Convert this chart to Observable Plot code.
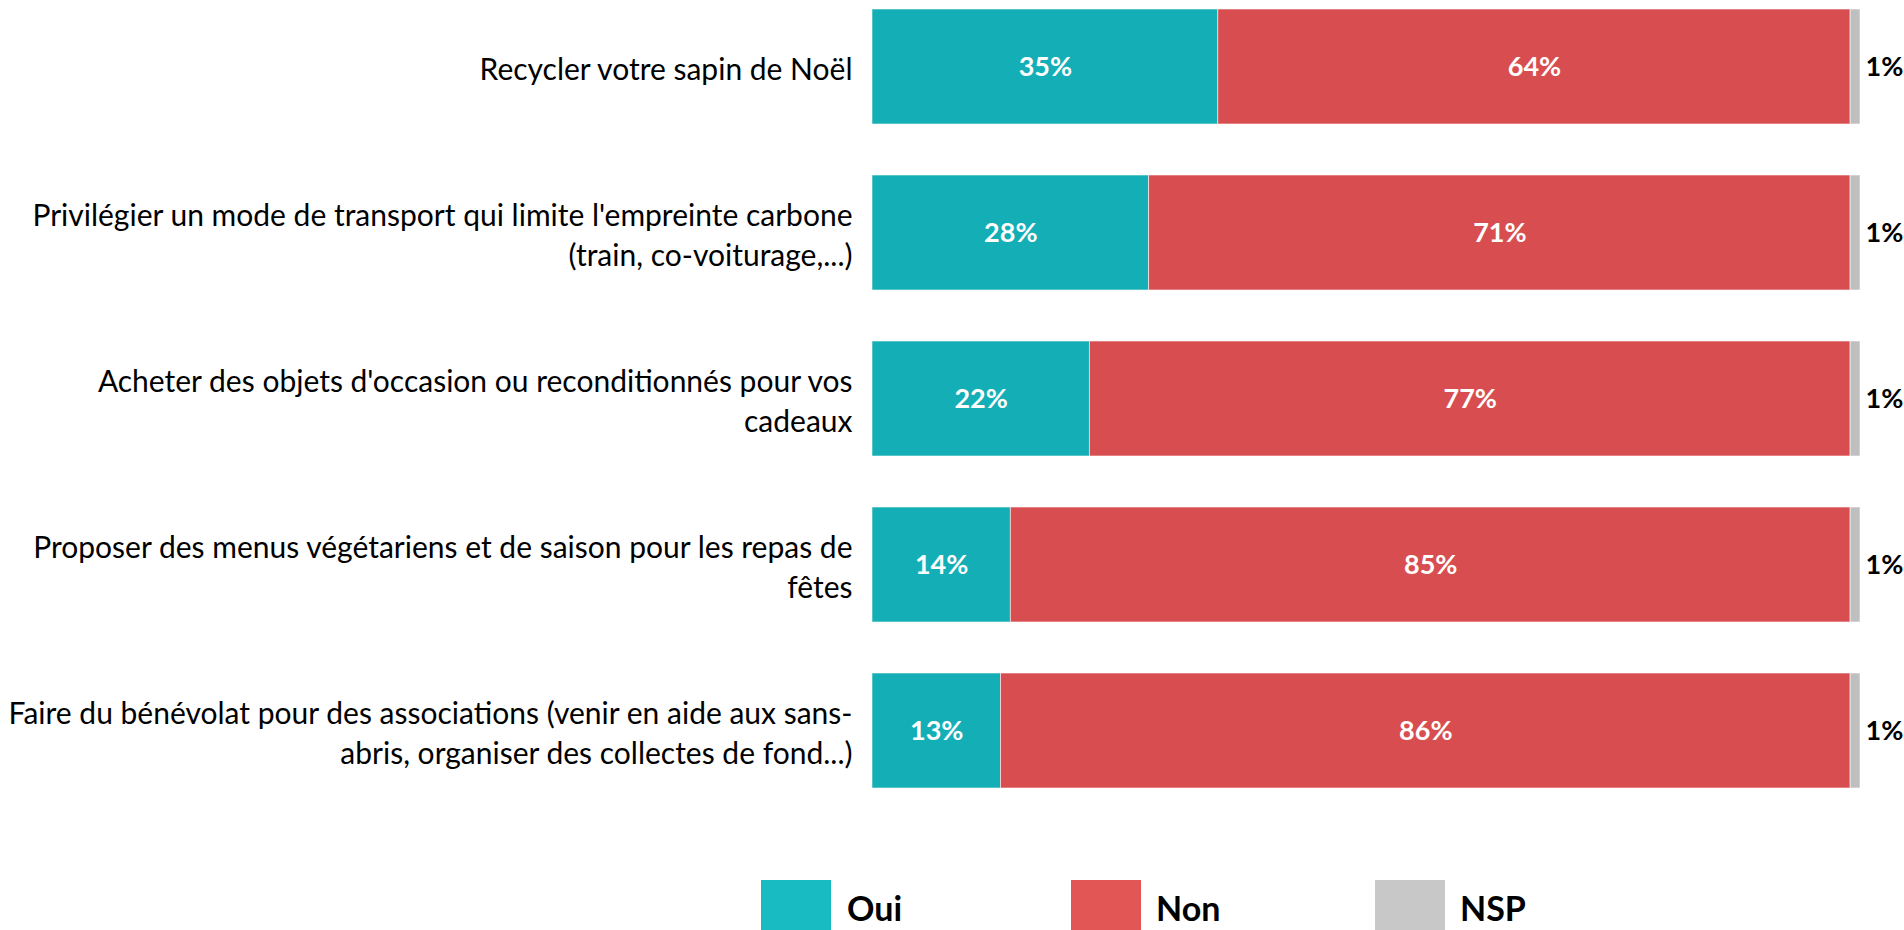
<!DOCTYPE html>
<html>
<head>
<meta charset="utf-8">
<script src="https://cdn.jsdelivr.net/npm/d3@7"></script>
<script src="https://cdn.jsdelivr.net/npm/@observablehq/plot@0.6"></script>
<style>
  html, body { margin: 0; padding: 0; background: #fff; overflow: hidden; }
  #chart svg { display: block; }
  #legend { position: relative; height: 60px; font-family: Lato, sans-serif; }
  .sw { position: absolute; top: 10px; width: 70px; height: 70px; }
  .lb { position: absolute; top: 18px; font-weight: bold; font-size: 34px; color: #000; line-height: 40px; }
</style>
</head>
<body>
<div id="chart"></div>
<div id="legend"></div>
<script>
const categories = [
  "Recycler votre sapin de Noël",
  "Privilégier un mode de transport qui limite l'empreinte carbone\n(train, co-voiturage,...)",
  "Acheter des objets d'occasion ou reconditionnés pour vos\ncadeaux",
  "Proposer des menus végétariens et de saison pour les repas de\nfêtes",
  "Faire du bénévolat pour des associations (venir en aide aux sans-\nabris, organiser des collectes de fond...)"
];
const responses = ["Oui", "Non", "NSP"];
const oui = [35, 28, 22, 14, 13];
const non = [64, 71, 77, 85, 86];
const nsp = [1, 1, 1, 1, 1];
const barColors = ["#13AEB6", "#D84E50", "#BFBFBF"];
const legendColors = ["#19BBC3", "#E35656", "#C8C8C8"];

const series = [oui, non, nsp];
const rows = categories.flatMap((c, i) =>
  responses.map((r, j) => ({cat: c, resp: r, value: series[j][i]}))
);

const chart = Plot.plot({
  width: 1904,
  height: 870,
  marginLeft: 872,
  marginRight: 44,
  marginTop: 0,
  marginBottom: 74,
  style: {fontFamily: "Lato, sans-serif", background: "white"},
  x: {domain: [0, 100], axis: null},
  y: {domain: categories, paddingInner: 0.31, paddingOuter: 0.05, axis: null},
  color: {domain: responses, range: barColors},
  marks: [
    Plot.barX(rows, Plot.stackX({
      x: "value", y: "cat", fill: "resp", z: "resp", order: responses,
      stroke: "white", strokeWidth: 0.8, strokeOpacity: 0.7
    })),
    Plot.axisY({
      tickSize: 0, tickPadding: 20, fontSize: 30, lineHeight: 1.33,
      textAnchor: "end", fill: "#000", label: null
    }),
    Plot.text(rows, Plot.stackX({
      x: "value", y: "cat", z: "resp", order: responses,
      text: d => d.resp === "NSP" ? null : d.value + "%",
      fill: "white", fontWeight: "bold", fontSize: 27
    })),
    Plot.text(rows, Plot.stackX2({
      x: "value", y: "cat", z: "resp", order: responses,
      text: d => d.resp === "NSP" ? d.value + "%" : null,
      fill: "#000", fontWeight: "bold", fontSize: 27, textAnchor: "start", dx: 5
    }))
  ]
});
document.getElementById("chart").append(chart);

const legend = document.getElementById("legend");
const swatchLeft = [761, 1071, 1375];
const labelLeft = [847, 1156, 1460];
responses.forEach((r, i) => {
  const s = document.createElement("div");
  s.className = "sw";
  s.style.left = swatchLeft[i] + "px";
  s.style.background = legendColors[i];
  legend.append(s);
  const t = document.createElement("div");
  t.className = "lb";
  t.style.left = labelLeft[i] + "px";
  t.textContent = r;
  legend.append(t);
});
</script>
</body>
</html>
